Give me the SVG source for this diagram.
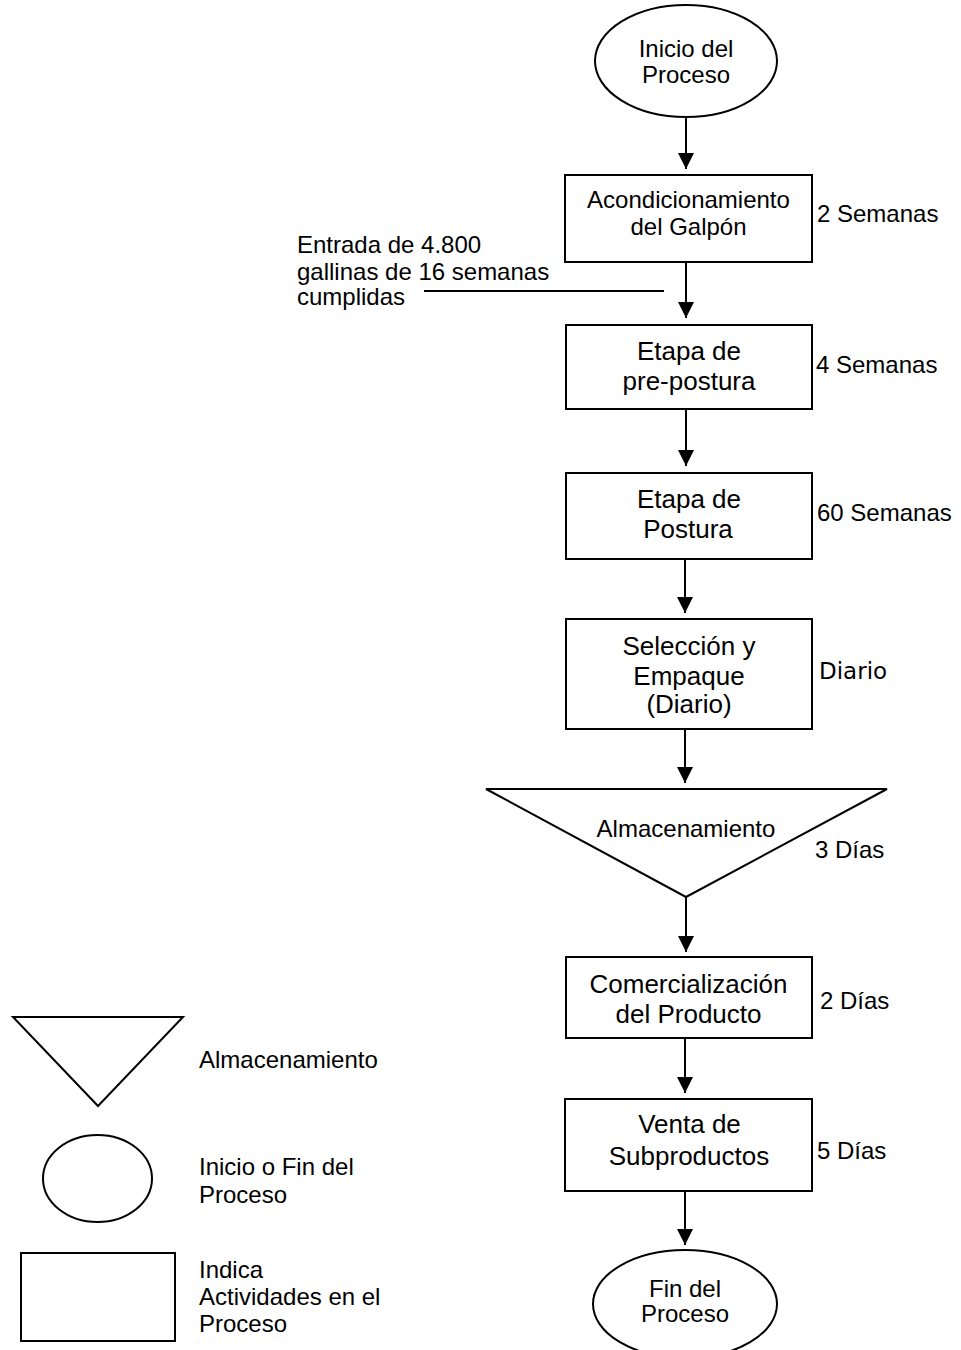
<svg xmlns="http://www.w3.org/2000/svg" width="961" height="1350" viewBox="0 0 961 1350">
<style>
.shape{fill:#fff;stroke:#000;stroke-width:2}
.conn{stroke:#000;stroke-width:2;fill:none}
text{font-family:"Liberation Sans",Arial,sans-serif;fill:#000;font-size:24px}
.c{text-anchor:middle}
.b{font-size:26px}
.dv{font-family:"DejaVu Sans","Liberation Sans",sans-serif;font-size:23px}
</style>
<defs>
<marker id="ah" markerUnits="userSpaceOnUse" markerWidth="16" markerHeight="17" viewBox="0 0 16 17" refX="16" refY="8" orient="auto">
<path d="M0,0 L16,8 L0,16 Z" fill="#000"/>
</marker>
</defs>
<rect width="961" height="1350" fill="#fff"/>
<g id="connectors">
<line class="conn" x1="686" y1="117" x2="686" y2="169" marker-end="url(#ah)"/>
<line class="conn" x1="686" y1="262" x2="686" y2="318" marker-end="url(#ah)"/>
<line class="conn" x1="686" y1="409" x2="686" y2="466" marker-end="url(#ah)"/>
<line class="conn" x1="685" y1="559" x2="685" y2="613" marker-end="url(#ah)"/>
<line class="conn" x1="685" y1="729" x2="685" y2="783" marker-end="url(#ah)"/>
<line class="conn" x1="686" y1="897" x2="686" y2="952" marker-end="url(#ah)"/>
<line class="conn" x1="685" y1="1038" x2="685" y2="1093" marker-end="url(#ah)"/>
<line class="conn" x1="685" y1="1191" x2="685" y2="1245" marker-end="url(#ah)"/>
<line class="conn" x1="424" y1="291" x2="664" y2="291"/>
</g>
<g id="inicio">
<ellipse class="shape" cx="686" cy="61" rx="91" ry="56"/>
<text class="c" x="686" y="57">Inicio del</text>
<text class="c" x="686" y="83">Proceso</text>
</g>
<g id="acondicionamiento">
<rect class="shape" x="565" y="175" width="247" height="87"/>
<text class="c" x="688.5" y="208">Acondicionamiento</text>
<text class="c" x="688.5" y="235">del Galpón</text>
<text x="817" y="222">2 Semanas</text>
</g>
<g id="entrada">
<text x="297" y="253">Entrada de 4.800</text>
<text x="297" y="280">gallinas de 16 semanas</text>
<text x="297" y="305">cumplidas</text>
</g>
<g id="preposture">
<rect class="shape" x="566" y="325" width="246" height="84"/>
<text class="c b" x="689" y="360">Etapa de</text>
<text class="c b" x="689" y="390">pre-postura</text>
<text x="816" y="373">4 Semanas</text>
</g>
<g id="postura">
<rect class="shape" x="566" y="473" width="246" height="86"/>
<text class="c b" x="689" y="508">Etapa de</text>
<text class="c b" x="688" y="538">Postura</text>
<text x="817" y="521">60 Semanas</text>
</g>
<g id="seleccion">
<rect class="shape" x="566" y="619" width="246" height="110"/>
<text class="c b" x="689" y="655">Selección y</text>
<text class="c b" x="689" y="685">Empaque</text>
<text class="c b" x="689" y="713">(Diario)</text>
<text class="dv" x="819" y="679">Diario</text>
</g>
<g id="almacenamiento">
<polygon class="shape" points="486,789 887,789 686,897"/>
<text class="c" x="686" y="837">Almacenamiento</text>
<text x="815" y="858">3 Días</text>
</g>
<g id="comercializacion">
<rect class="shape" x="566" y="957" width="246" height="81"/>
<text class="c b" x="688.5" y="993">Comercialización</text>
<text class="c b" x="688.5" y="1023">del Producto</text>
<text x="820" y="1009">2 Días</text>
</g>
<g id="venta">
<rect class="shape" x="565" y="1099" width="247" height="92"/>
<text class="c b" x="689.5" y="1133">Venta de</text>
<text class="c b" x="689" y="1165">Subproductos</text>
<text x="817" y="1159">5 Días</text>
</g>
<g id="fin">
<ellipse class="shape" cx="685" cy="1304" rx="92" ry="54"/>
<text class="c" x="685" y="1297">Fin del</text>
<text class="c" x="685" y="1322">Proceso</text>
</g>
<g id="legend-almacenamiento">
<polygon class="shape" points="13,1017 183,1017 98,1106"/>
<text x="199" y="1068">Almacenamiento</text>
</g>
<g id="legend-inicio-fin">
<ellipse class="shape" cx="97.5" cy="1178.5" rx="54.5" ry="43.5"/>
<text x="199" y="1175">Inicio o Fin del</text>
<text x="199" y="1203">Proceso</text>
</g>
<g id="legend-actividades">
<rect class="shape" x="21" y="1253" width="154" height="88"/>
<text x="199" y="1278">Indica</text>
<text x="199" y="1305">Actividades en el</text>
<text x="199" y="1332">Proceso</text>
</g>
</svg>
